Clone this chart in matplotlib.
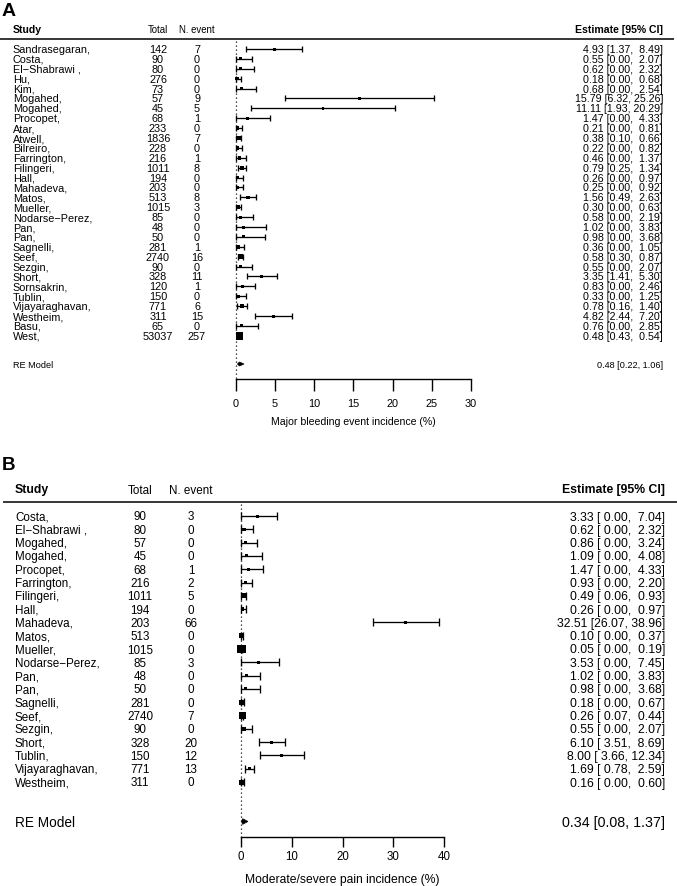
import matplotlib
matplotlib.use("Agg")
import matplotlib.pyplot as plt
from matplotlib.patches import Polygon
import numpy as np

plt.rcParams['font.family'] = ['Liberation Sans', 'DejaVu Sans']

# ---------------- Panel A data ----------------
studies_a = ["Sandrasegaran,", "Costa,", "El\u2212Shabrawi ,", "Hu,", "Kim,", "Mogahed,", "Mogahed,",
             "Procopet,", "Atar,", "Atwell,", "Bilreiro,", "Farrington,", "Filingeri,", "Hall,",
             "Mahadeva,", "Matos,", "Mueller,", "Nodarse\u2212Perez,", "Pan,", "Pan,", "Sagnelli,",
             "Seef,", "Sezgin,", "Short,", "Sornsakrin,", "Tublin,", "Vijayaraghavan,", "Westheim,",
             "Basu,", "West,"]
total_a = [142, 90, 80, 276, 73, 57, 45, 68, 233, 1836, 228, 216, 1011, 194, 203, 513, 1015, 85,
           48, 50, 281, 2740, 90, 328, 120, 150, 771, 311, 65, 53037]
events_a = [7, 0, 0, 0, 0, 9, 5, 1, 0, 7, 0, 1, 8, 0, 0, 8, 3, 0, 0, 0, 1, 16, 0, 11, 1, 0, 6, 15, 0, 257]
est_a = [4.93, 0.55, 0.62, 0.18, 0.68, 15.79, 11.11, 1.47, 0.21, 0.38, 0.22, 0.46, 0.79, 0.26, 0.25,
         1.56, 0.30, 0.58, 1.02, 0.98, 0.36, 0.58, 0.55, 3.35, 0.83, 0.33, 0.78, 4.82, 0.76, 0.48]
lo_a = [1.37, 0.00, 0.00, 0.00, 0.00, 6.32, 1.93, 0.00, 0.00, 0.10, 0.00, 0.00, 0.25, 0.00, 0.00,
        0.49, 0.00, 0.00, 0.00, 0.00, 0.00, 0.30, 0.00, 1.41, 0.00, 0.00, 0.16, 2.44, 0.00, 0.43]
hi_a = [8.49, 2.07, 2.32, 0.68, 2.54, 25.26, 20.29, 4.33, 0.81, 0.66, 0.82, 1.37, 1.34, 0.97, 0.92,
        2.63, 0.63, 2.19, 3.83, 3.68, 1.05, 0.87, 2.07, 5.30, 2.46, 1.25, 1.40, 7.20, 2.85, 0.54]
# relative study weight boxes (side length, px)
box_a = [3, 3, 3, 3.5, 3, 2.5, 2.5, 3, 3.5, 4.5, 3.5, 3.5, 4, 3.5, 3.5, 3.5, 4.5, 3, 3, 3, 3.5, 5,
         3, 3, 3, 3.5, 3.5, 3, 3, 7.5]
re_a = (0.48, 0.22, 1.06)
ticks_a = [0, 5, 10, 15, 20, 25, 30]
xlabel_a = "Major bleeding event incidence (%)"

# ---------------- Panel B data ----------------
studies_b = ["Costa,", "El\u2212Shabrawi ,", "Mogahed,", "Mogahed,", "Procopet,", "Farrington,",
             "Filingeri,", "Hall,", "Mahadeva,", "Matos,", "Mueller,", "Nodarse\u2212Perez,", "Pan,",
             "Pan,", "Sagnelli,", "Seef,", "Sezgin,", "Short,", "Tublin,", "Vijayaraghavan,", "Westheim,"]
total_b = [90, 80, 57, 45, 68, 216, 1011, 194, 203, 513, 1015, 85, 48, 50, 281, 2740, 90, 328, 150, 771, 311]
events_b = [3, 0, 0, 0, 1, 2, 5, 0, 66, 0, 0, 3, 0, 0, 0, 7, 0, 20, 12, 13, 0]
est_b = [3.33, 0.62, 0.86, 1.09, 1.47, 0.93, 0.49, 0.26, 32.51, 0.10, 0.05, 3.53, 1.02, 0.98, 0.18,
         0.26, 0.55, 6.10, 8.00, 1.69, 0.16]
lo_b = [0.00, 0.00, 0.00, 0.00, 0.00, 0.00, 0.06, 0.00, 26.07, 0.00, 0.00, 0.00, 0.00, 0.00, 0.00,
        0.07, 0.00, 3.51, 3.66, 0.78, 0.00]
hi_b = [7.04, 2.32, 3.24, 4.08, 4.33, 2.20, 0.93, 0.97, 38.96, 0.37, 0.19, 7.45, 3.83, 3.68, 0.67,
        0.44, 2.07, 8.69, 12.34, 2.59, 0.60]
box_b = [3, 3.5, 3, 3, 3, 3.5, 5, 3.5, 3, 5.5, 8.5, 3, 3, 3, 5, 7, 4, 3, 3, 3.5, 5]
re_b = (0.34, 0.08, 1.37)
ticks_b = [0, 10, 20, 30, 40]
xlabel_b = "Moderate/severe pain incidence (%)"

W, H = 677, 886
fig = plt.figure(figsize=(W / 100, H / 100), dpi=100)


def panel(letter, letter_y, top_px, axis_px, x0_px, x1_px, ticks, studies, totals, events,
          est, lo, hi, boxes, re, xlabel, L):
    xmax = ticks[-1]
    scale = (x1_px - x0_px) / xmax
    ax = fig.add_axes([0, 1 - axis_px / H, 1, (axis_px - top_px) / H])
    ax.set_xlim(-x0_px / scale, (W - x0_px) / scale)
    ax.set_ylim(axis_px, top_px)
    ax.patch.set_alpha(0)
    for s in ['top', 'left', 'right']:
        ax.spines[s].set_visible(False)
    ax.spines['bottom'].set_bounds(0, xmax)
    ax.spines['bottom'].set_linewidth(1.0)
    ax.set_yticks([])
    ax.set_xticks(ticks)
    ax.set_xticklabels([str(t) for t in ticks])
    ax.tick_params(axis='x', direction='out', length=L['tick_len'], width=1.0,
                   pad=L['tick_pad'], labelsize=L['tick_fs'])

    def X(px):
        return (px - x0_px) / scale

    n = len(studies)
    ys = np.array([L['row0'] + i * L['step'] for i in range(n)])

    # panel letter & headers
    ax.text(X(2), letter_y, letter, fontsize=L['letter_fs'], fontweight='bold',
            ha='left', va='center_baseline', clip_on=False)
    hy = L['head_y']
    ax.text(X(L['name_x']), hy, "Study", fontsize=L['head_fs'], fontweight='bold',
            ha='left', va='center_baseline')
    ax.text(X(L['tot_x']), hy, "Total", fontsize=L['subhead_fs'], ha='center', va='center_baseline')
    ax.text(X(L['ev_x']), hy, "N. event", fontsize=L['subhead_fs'], ha='center', va='center_baseline')
    ax.text(X(L['est_x']), hy, "Estimate [95% CI]", fontsize=L['head_fs'], fontweight='bold',
            ha='right', va='center_baseline')
    ax.plot([X(L['line_x0']), X(L['line_x1'])], [L['line_y'], L['line_y']], color='black',
            lw=1.1, solid_capstyle='butt', clip_on=False)

    # reference line
    ax.plot([0, 0], [L['line_y'] + 2, axis_px], color='#111111', lw=0.9,
            linestyle=(0, (1, 2.2)), clip_on=False)

    # rows text
    for i in range(n):
        y = ys[i]
        ax.text(X(L['name_x']), y, studies[i], fontsize=L['row_fs'], ha='left', va='center_baseline')
        ax.text(X(L['tot_x']), y, str(totals[i]), fontsize=L['row_fs'], ha='center', va='center_baseline')
        ax.text(X(L['ev_x']), y, str(events[i]), fontsize=L['row_fs'], ha='center', va='center_baseline')
        ax.text(X(L['est_x']), y, L['fmt'].format(est[i], lo[i], hi[i]), fontsize=L['est_fs'],
                ha='right', va='center_baseline')

    # CIs and boxes
    est = np.array(est); lo = np.array(lo); hi = np.array(hi)
    ax.errorbar(est, ys, xerr=[est - lo, hi - est], fmt='none', ecolor='black',
                elinewidth=0.95, capsize=L['cap'], capthick=0.95)
    sizes = (np.array(boxes) * 0.72) ** 2
    ax.scatter(est, ys, s=sizes, marker='s', color='black', linewidths=0, zorder=3)

    # RE model
    ry = L['re_y']
    e, l, h = re
    dh = L['dia_h']
    ax.add_patch(Polygon([[l, ry], [e, ry - dh], [h, ry], [e, ry + dh]], closed=True,
                         facecolor='black', edgecolor='black', lw=0.5))
    ax.text(X(L['name_x']), ry, "RE Model", fontsize=L['re_fs'], ha='left', va='center_baseline')
    ax.text(X(L['est_x']), ry, "{:.2f} [{:.2f}, {:.2f}]".format(e, l, h), fontsize=L['re_est_fs'],
            ha='right', va='center_baseline')

    # x label
    ax.text(xmax / 2, L['xlab_y'], xlabel, fontsize=L['xlab_fs'], ha='center',
            va='center_baseline', clip_on=False)
    return ax


layout_a = dict(tick_len=8.6, tick_pad=5.5, tick_fs=7.8, row0=49, step=9.89, letter_fs=14,
                head_y=29, name_x=12.7, tot_x=158, ev_x=197, est_x=663, head_fs=7.6,
                subhead_fs=6.9, line_y=39, line_x0=0, line_x1=674, row_fs=7.8, est_fs=7.7,
                fmt="{:.2f} [{:.2f}, {:5.2f}]", cap=2.4, re_y=364, dia_h=2.0, re_fs=6.6,
                re_est_fs=6.6, xlab_y=421, xlab_fs=7.6)
layout_b = dict(tick_len=7.2, tick_pad=3.6, tick_fs=8.3, row0=516, step=13.3, letter_fs=13.5,
                head_y=489, name_x=15, tot_x=140, ev_x=191, est_x=665, head_fs=8.8,
                subhead_fs=8.4, line_y=502, line_x0=3, line_x1=677, row_fs=8.4, est_fs=8.8,
                fmt="{:.2f} [{:5.2f}, {:5.2f}]", cap=3.0, re_y=821.5, dia_h=2.8, re_fs=9.8,
                re_est_fs=10.3, xlab_y=879, xlab_fs=8.7)

panel("A", 9, 0, 379, 235.7, 471, ticks_a, studies_a, total_a, events_a, est_a, lo_a, hi_a,
      box_a, re_a, xlabel_a, layout_a)
panel("B", 464, 430, 836.5, 241, 444, ticks_b, studies_b, total_b, events_b, est_b, lo_b, hi_b,
      box_b, re_b, xlabel_b, layout_b)

fig.savefig("out.png", dpi=100, facecolor='white')
